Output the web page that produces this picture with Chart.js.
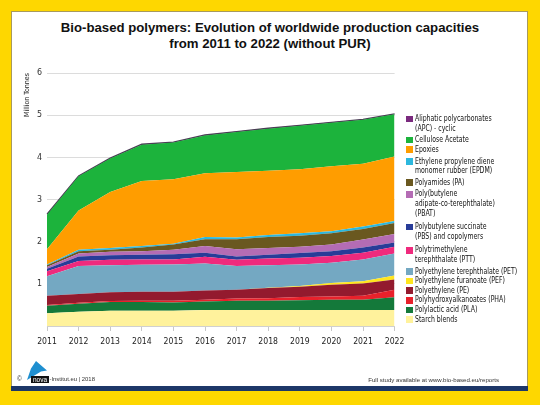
<!DOCTYPE html>
<html>
<head>
<meta charset="utf-8">
<script src="https://cdn.jsdelivr.net/npm/chart.js@4.4.1/dist/chart.umd.min.js"></script>
<style>
  html, body { margin:0; padding:0; }
  body { width:540px; height:405px; background:#fed700; position:relative; overflow:hidden;
         font-family:'Liberation Sans', Arial, sans-serif; }
  #panel { position:absolute; left:11px; top:11px; width:515px; height:374px; background:#fff;
           border:1px solid #a89a5c; border-bottom:none; }
  #stripe { position:absolute; left:11px; top:386px; width:517px; height:5px; background:#1d3768; }
  #title { position:absolute; left:0; top:20px; width:540px; text-align:center; font-weight:bold;
           font-size:13.2px; line-height:16px; color:#111; }
  #chartwrap { position:absolute; left:0; top:0; width:540px; height:405px; }
  #legend { position:absolute; left:406px; top:112px; width:125px; color:#111;
            font-family:'Liberation Sans Narrow','DejaVu Sans Condensed','Roboto Condensed',sans-serif; font-size:9px; }
  .item { display:flex; align-items:flex-start; }
  .item.multi { padding:2px 0; }
  .sw { width:6.7px; height:6.7px; flex:none; margin-top:1.5px; margin-right:2.5px; }
  .txt { line-height:9.6px; white-space:nowrap; transform:scaleX(0.765); transform-origin:0 0; }
  .item.single .txt { line-height:9.65px; }
  #foot-l { position:absolute; left:17px; top:375px; font-size:6.5px; color:#333; }
  #foot-r { position:absolute; right:41px; top:375.5px; font-size:6.1px; color:#333; }
  #logo { position:absolute; left:27px; top:361px; width:20px; height:19px; background:#1f8fd0;
          clip-path:polygon(45% 0%, 100% 50%, 70% 55%, 0% 100%, 20% 40%); }
  #nova { position:absolute; left:31px; top:375.5px; width:18px; height:7px; background:#111; color:#fff;
          font-size:6.5px; line-height:7px; text-align:center; }
  #inst { position:absolute; left:49.5px; top:375.5px; font-size:5.9px; color:#333; }
</style>
</head>
<body>
<div id="panel"></div>
<div id="stripe"></div>
<div id="title">Bio-based polymers: Evolution of worldwide production capacities<br>from 2011 to 2022 (without PUR)</div>
<div id="chartwrap"><canvas id="c" width="540" height="405"></canvas></div>
<div id="legend"></div>
<div id="logo"></div>
<div id="foot-l">©</div>
<div id="nova">nova</div>
<div id="inst">-Institut.eu | 2018</div>
<div id="foot-r">Full study available at www.bio-based.eu/reports</div>
<script>
// ---- data (million tonnes, per series, 2011..2022) ----
const years = ['2011','2012','2013','2014','2015','2016','2017','2018','2019','2020','2021','2022'];
const yTicks = [0, 1, 2, 3, 4, 5, 6];

const starchBlends     = [0.30,0.34,0.36,0.36,0.36,0.38,0.38,0.38,0.38,0.38,0.38,0.38];
const polylacticAcid   = [0.18,0.19,0.21,0.21,0.20,0.20,0.22,0.22,0.23,0.24,0.24,0.30];
const pha              = [0.02,0.02,0.02,0.03,0.04,0.04,0.05,0.06,0.08,0.08,0.10,0.18];
const polyethylene     = [0.22,0.21,0.21,0.21,0.21,0.22,0.21,0.24,0.24,0.28,0.29,0.24];
const pef              = [0.00,0.00,0.00,0.00,0.00,0.00,0.00,0.01,0.02,0.04,0.05,0.10];
const pet              = [0.46,0.66,0.64,0.64,0.65,0.64,0.56,0.53,0.51,0.48,0.52,0.52];
const ptt              = [0.12,0.12,0.13,0.13,0.12,0.16,0.15,0.16,0.16,0.16,0.16,0.16];
const pbs              = [0.06,0.11,0.11,0.11,0.12,0.10,0.08,0.09,0.11,0.11,0.12,0.10];
const pbat             = [0.04,0.07,0.08,0.08,0.11,0.16,0.17,0.16,0.15,0.16,0.19,0.20];
const polyamides       = [0.04,0.05,0.05,0.09,0.12,0.16,0.24,0.26,0.26,0.27,0.25,0.26];
const epdm             = [0.02,0.04,0.04,0.04,0.02,0.05,0.04,0.05,0.06,0.05,0.06,0.05];
const epoxies          = [0.36,0.93,1.33,1.54,1.53,1.51,1.55,1.52,1.52,1.54,1.49,1.53];
const celluloseAcetate = [0.82,0.81,0.79,0.86,0.87,0.90,0.95,1.00,1.03,1.03,1.04,1.00];
const apc              = [0.01,0.01,0.01,0.01,0.01,0.01,0.01,0.01,0.01,0.01,0.01,0.01];

// legend label lines (top of stack first)
const legendNames = [
  ['Aliphatic polycarbonates','(APC) - cyclic'],
  ['Cellulose Acetate'],
  ['Epoxies'],
  ['Ethylene propylene diene','monomer rubber (EPDM)'],
  ['Polyamides (PA)'],
  ['Poly(butylene','adipate-co-terephthalate)','(PBAT)'],
  ['Polybutylene succinate','(PBS) and copolymers'],
  ['Polytrimethylene','terephthalate (PTT)'],
  ['Polyethylene terephthalate (PET)'],
  ['Polyethylene furanoate (PEF)'],
  ['Polyethylene (PE)'],
  ['Polyhydroxyalkanoates (PHA)'],
  ['Polylactic acid (PLA)'],
  ['Starch blends']
];
const legendSeries = [apc, celluloseAcetate, epoxies, epdm, polyamides, pbat, pbs, ptt, pet, pef, polyethylene, pha, polylacticAcid, starchBlends];
const legendColors = ['#7a2a7e','#1cb33c','#ff9d00','#2cb8de','#6a5820','#b46cb4','#283c98','#ef2a7d','#74a8c2','#ffe51e','#931a2e','#e8212b','#14793a','#fff29c'];

// ---- build datasets bottom-up ----
const n = legendSeries.length;
const datasets = [];
for (let i = n - 1; i >= 0; i--) {
  const isTop = i === 0;
  datasets.push({
    label: legendNames[i].join(' '),
    data: legendSeries[i],
    backgroundColor: legendColors[i],
    borderColor: isTop ? '#4b3d55' : legendColors[i],
    borderWidth: isTop ? 1.3 : 0,
    fill: i === n - 1 ? 'origin' : '-1',
    pointRadius: 0,
    tension: 0
  });
}

const narrow = "'Liberation Sans Narrow','DejaVu Sans Condensed','Roboto Condensed',sans-serif";

new Chart(document.getElementById('c'), {
  type: 'line',
  data: { labels: years, datasets },
  options: {
    responsive: false,
    animation: false,
    events: [],
    layout: { padding: { left: 20, right: 145.4, top: 73, bottom: 49 } },
    plugins: { legend: { display: false }, tooltip: { enabled: false } },
    scales: {
      x: {
        grid: { drawOnChartArea: false, drawTicks: true, tickLength: 5, color: '#c8c8c8' },
        border: { display: true, color: '#d0d0d0' },
        ticks: { font: { family: narrow, size: 8.6 }, color: '#222', padding: 6, maxRotation: 0, autoSkip: false },
        afterFit: s => { s.height = 30; }
      },
      y: {
        stacked: true,
        min: yTicks[0], max: yTicks[yTicks.length - 1],
        afterBuildTicks: s => { s.ticks = yTicks.map(v => ({ value: v })); },
        grid: { drawTicks: false, color: '#dcdcdc' },
        border: { display: false },
        ticks: { font: { family: narrow, size: 8.8 }, color: '#333', padding: 5,
                 callback: v => v === 0 ? '' : String(v) },
        title: { display: true, text: 'Million Tonnes', align: 'end',
                 font: { family: narrow, size: 7 }, color: '#222', padding: { top: 3, bottom: 0 } },
        afterFit: s => { s.width = 27; }
      }
    }
  }
});

// ---- HTML legend ----
const lg = document.getElementById('legend');
legendNames.forEach((lines, i) => {
  const it = document.createElement('div');
  it.className = 'item ' + (lines.length > 1 ? 'multi' : 'single');
  const sw = document.createElement('div');
  sw.className = 'sw';
  sw.style.background = legendColors[i];
  const tx = document.createElement('div');
  tx.className = 'txt';
  tx.innerHTML = lines.map(l => l.replace(/&/g,'&amp;').replace(/</g,'&lt;')).join('<br>');
  it.appendChild(sw); it.appendChild(tx);
  lg.appendChild(it);
});
</script>
</body>
</html>
